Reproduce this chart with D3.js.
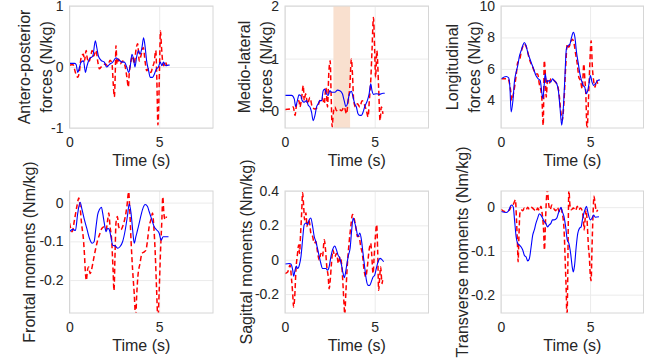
<!DOCTYPE html>
<html><head><meta charset="utf-8">
<script src="https://cdn.jsdelivr.net/npm/d3@7"></script>
<style>body{margin:0;background:#fff;} svg{display:block;font-family:"Liberation Sans",Arial,sans-serif;}</style>
</head><body><svg id="c" width="650" height="362"></svg>
<script>
// ---------- DATA ----------
const xDomain = [0, 8];
const xTicks = [0, 5];
const xLabel = "Time (s)";

const yLabels = [
  ["Antero-posterior", "forces (N/kg)"],
  ["Medio-lateral", "forces (N/kg)"],
  ["Longitudinal", "forces (N/kg)"],
  ["Frontal moments (Nm/kg)"],
  ["Sagittal moments (Nm/kg)"],
  ["Transverse moments (Nm/kg)"]
];
const yDomains = [[-1, 1], [-0.32, 2], [2.24, 10], [-0.285, 0.03], [-0.31, 0.4], [-0.242, 0.037]];
const yTicks = [[-1, 0, 1], [0, 1, 2], [4, 6, 8, 10], [-0.2, -0.1, 0], [-0.2, 0, 0.2, 0.4], [-0.2, -0.1, 0]];
const shadedInterval = [2.7, 3.63]; // panel 2 highlight (s)

// Antero-posterior forces
const apBlue = [[0,0.06],[0.28,0.06],[0.37,0.04],[0.46,-0.09],[0.56,0],[0.65,0.08],[0.78,0.10],[0.89,-0.09],[0.96,0],[1.11,0.13],[1.30,0.18],[1.44,0.43],[1.52,0.32],[1.61,0.18],[1.76,0.11],[1.94,0.08],[2.07,0.0],[2.22,0.04],[2.41,0.08],[2.59,0.15],[2.78,0.11],[2.93,0.08],[3.06,0.08],[3.19,0],[3.30,-0.09],[3.39,0.02],[3.48,0.21],[3.57,0.13],[3.65,0],[3.74,0.16],[3.85,0.27],[3.93,0.21],[4.04,0.32],[4.13,0.48],[4.22,0.32],[4.30,0.10],[4.41,-0.06],[4.5,-0.17],[4.63,-0.17],[4.74,-0.11],[4.85,-0.03],[4.96,0],[5.06,0.08],[5.15,0.02],[5.24,0.08],[5.37,0.02],[5.5,0.03],[5.58,0.03]];
const apRed = [[0,0.03],[0.19,0.04],[0.33,-0.09],[0.46,-0.17],[0.56,-0.06],[0.65,0.16],[0.78,0.21],[0.83,0.10],[0.93,0.27],[0.98,0.16],[1.07,0.08],[1.17,0.16],[1.26,0.27],[1.35,0.18],[1.48,0.27],[1.57,0.10],[1.67,-0.03],[1.76,0],[1.85,0.02],[2.0,0.05],[2.13,0.02],[2.26,0.11],[2.37,0.05],[2.44,-0.28],[2.5,-0.49],[2.56,0],[2.59,0.35],[2.65,0.05],[2.74,0.13],[2.83,0.05],[2.96,0.10],[3.11,0],[3.20,-0.17],[3.28,-0.33],[3.33,-0.11],[3.43,0.10],[3.52,0.18],[3.61,0.05],[3.70,0.27],[3.80,0.38],[3.89,0.10],[3.98,0.18],[4.11,0.32],[4.22,0.08],[4.30,-0.06],[4.41,-0.03],[4.54,-0.09],[4.63,0],[4.72,0.08],[4.81,0.27],[4.87,-0.22],[4.93,-0.95],[4.96,-0.77],[5.02,0],[5.07,0.59],[5.13,0.32],[5.19,0.10],[5.26,0.02],[5.33,0.08],[5.43,0.02]];

// Medio-lateral forces
const mlBlue = [[0,0.30],[0.37,0.30],[0.52,0.23],[0.59,0.09],[0.69,0.20],[0.78,0.31],[0.87,0.30],[0.96,0.20],[1.07,0.17],[1.20,0.20],[1.30,0.11],[1.39,0.08],[1.48,-0.02],[1.57,-0.18],[1.67,-0.08],[1.76,0.08],[1.85,0.14],[1.94,0.20],[2.04,0.20],[2.13,0.39],[2.22,0.42],[2.31,0.33],[2.41,0.30],[2.5,0.39],[2.59,0.36],[2.78,0.36],[2.93,0.40],[3.06,0.39],[3.20,0.33],[3.30,0.20],[3.39,0.09],[3.48,0.14],[3.57,0.30],[3.70,0.38],[3.80,0.26],[3.89,0.14],[3.98,0.08],[4.07,-0.05],[4.17,-0.08],[4.26,-0.08],[4.35,-0.02],[4.44,0.08],[4.59,0.20],[4.69,0.33],[4.78,0.52],[4.85,0.39],[4.93,0.32],[5.09,0.33],[5.28,0.32],[5.46,0.34],[5.56,0.34]];
const mlRed = [[0,0.03],[0.28,0.04],[0.46,0.08],[0.56,-0.08],[0.65,0.14],[0.78,0.20],[0.83,0.08],[0.93,0.26],[1.02,0.49],[1.07,0.20],[1.15,0.33],[1.26,0.14],[1.39,0.26],[1.52,0.08],[1.67,0.04],[1.81,0.08],[1.94,0.20],[2.07,0.26],[2.19,0.14],[2.28,0.45],[2.37,0.08],[2.44,0.71],[2.52,0.96],[2.57,0.33],[2.63,-0.30],[2.69,-0.05],[2.78,0.08],[2.87,0.01],[3.0,0.04],[3.15,0.01],[3.30,0.08],[3.43,-0.05],[3.52,0.20],[3.61,0.45],[3.70,0.99],[3.76,0.71],[3.83,0.20],[3.93,0.08],[4.04,0.14],[4.17,0.08],[4.30,0.20],[4.41,0.14],[4.54,0.01],[4.63,-0.11],[4.70,0.20],[4.78,0.58],[4.85,1.15],[4.93,1.78],[5.0,1.15],[5.05,0.64],[5.12,1.15],[5.22,0.45],[5.30,-0.18],[5.37,0.08],[5.46,-0.05]];

// Longitudinal forces
const lgBlue = [[0,5.37],[0.30,5.52],[0.43,5.43],[0.5,4.84],[0.57,3.26],[0.67,4.0],[0.76,5.26],[0.85,5.79],[0.94,6.21],[1.04,6.84],[1.13,7.16],[1.22,7.47],[1.31,7.68],[1.41,7.47],[1.5,7.05],[1.59,6.74],[1.69,6.42],[1.83,6.0],[1.96,5.58],[2.09,5.37],[2.2,5.26],[2.3,4.42],[2.35,4.11],[2.43,5.05],[2.48,5.68],[2.57,5.16],[2.70,5.26],[2.8,5.16],[2.89,5.37],[2.98,5.26],[3.13,5.05],[3.22,4.63],[3.31,3.58],[3.41,2.42],[3.48,3.16],[3.57,5.05],[3.67,7.26],[3.76,7.47],[3.87,7.58],[3.96,8.0],[4.06,8.32],[4.15,8.0],[4.24,7.05],[4.33,6.42],[4.43,5.68],[4.52,5.26],[4.61,4.95],[4.70,4.84],[4.80,4.42],[4.87,4.63],[4.94,5.05],[5.02,5.58],[5.11,5.16],[5.20,4.95],[5.3,5.05],[5.43,5.26],[5.55,5.3]];
const lgRed = [[0,5.37],[0.39,5.37],[0.54,4.63],[0.61,4.0],[0.7,4.42],[0.85,5.58],[0.94,6.42],[1.04,6.53],[1.13,7.05],[1.31,7.58],[1.46,7.26],[1.59,6.63],[1.78,6.11],[1.96,5.68],[2.06,5.68],[2.15,5.05],[2.24,4.63],[2.30,4.0],[2.37,2.4],[2.43,6.53],[2.48,5.89],[2.54,4.21],[2.61,5.26],[2.70,5.05],[2.80,5.37],[2.98,5.26],[3.17,4.95],[3.26,4.42],[3.35,3.37],[3.44,2.74],[3.54,4.0],[3.63,6.11],[3.72,7.58],[3.81,7.37],[3.91,7.68],[4.0,7.89],[4.09,7.68],[4.19,6.95],[4.28,6.32],[4.37,5.47],[4.46,5.26],[4.56,4.74],[4.65,6.32],[4.70,5.47],[4.76,4.42],[4.83,2.1],[4.91,4.0],[4.98,6.11],[5.06,7.79],[5.13,6.11],[5.20,5.26],[5.28,4.84],[5.35,5.26],[5.43,5.05]];

// Frontal moments
const frBlue = [[0,-0.075],[0.19,-0.069],[0.33,-0.072],[0.46,-0.027],[0.59,0.001],[0.7,-0.018],[0.83,-0.044],[0.96,-0.066],[1.11,-0.092],[1.26,-0.105],[1.37,-0.101],[1.48,-0.062],[1.57,-0.031],[1.67,-0.018],[1.78,-0.012],[1.85,-0.027],[1.94,-0.053],[2.04,-0.075],[2.13,-0.066],[2.22,-0.070],[2.31,-0.088],[2.41,-0.110],[2.56,-0.112],[2.69,-0.118],[2.81,-0.114],[2.96,-0.101],[3.11,-0.070],[3.24,-0.031],[3.33,-0.003],[3.43,-0.027],[3.52,-0.070],[3.61,-0.105],[3.70,-0.088],[3.80,-0.070],[3.93,-0.044],[4.07,-0.018],[4.22,-0.005],[4.35,-0.010],[4.44,-0.023],[4.59,-0.044],[4.72,-0.062],[4.85,-0.070],[5.0,-0.079],[5.11,-0.097],[5.22,-0.088],[5.37,-0.088],[5.52,-0.088]];
const frRed = [[0,-0.053],[0.15,-0.075],[0.28,-0.044],[0.41,-0.010],[0.52,0.012],[0.59,-0.010],[0.67,-0.053],[0.78,-0.097],[0.83,-0.131],[0.89,-0.183],[0.94,-0.201],[1.0,-0.175],[1.07,-0.166],[1.15,-0.183],[1.22,-0.175],[1.33,-0.149],[1.44,-0.123],[1.57,-0.097],[1.70,-0.079],[1.81,-0.066],[1.94,-0.062],[2.04,-0.070],[2.13,-0.044],[2.19,-0.027],[2.26,-0.062],[2.35,-0.097],[2.43,-0.175],[2.48,-0.227],[2.54,-0.131],[2.59,-0.053],[2.67,-0.036],[2.74,-0.062],[2.87,-0.070],[2.96,-0.062],[3.11,-0.036],[3.20,-0.010],[3.30,0.028],[3.35,-0.010],[3.43,-0.097],[3.52,-0.175],[3.61,-0.236],[3.69,-0.30],[3.74,-0.245],[3.81,-0.192],[3.93,-0.157],[4.04,-0.131],[4.17,-0.127],[4.26,-0.123],[4.35,-0.097],[4.44,-0.062],[4.54,-0.044],[4.63,-0.027],[4.70,-0.062],[4.78,-0.131],[4.85,-0.218],[4.93,-0.30],[5.0,-0.227],[5.07,-0.131],[5.15,-0.044],[5.2,0.015],[5.26,-0.027],[5.33,-0.044],[5.41,-0.036]];

// Sagittal moments
const sgBlue = [[0,-0.025],[0.24,-0.022],[0.33,-0.025],[0.43,-0.061],[0.48,-0.096],[0.56,-0.061],[0.63,-0.037],[0.70,-0.051],[0.80,-0.031],[0.89,0.018],[0.98,0.116],[1.07,0.204],[1.17,0.214],[1.26,0.204],[1.35,0.233],[1.44,0.243],[1.54,0.194],[1.63,0.135],[1.72,0.106],[1.81,0.067],[1.91,0.018],[2.0,-0.022],[2.09,-0.051],[2.19,-0.051],[2.28,-0.051],[2.37,-0.061],[2.46,-0.041],[2.56,0.018],[2.65,0.057],[2.78,0.080],[2.87,0.057],[2.96,0.027],[3.06,0.008],[3.15,-0.031],[3.24,-0.080],[3.30,-0.104],[3.35,-0.090],[3.44,-0.031],[3.54,0.027],[3.63,0.067],[3.72,0.175],[3.80,0.243],[3.89,0.214],[3.98,0.175],[4.07,0.135],[4.17,0.155],[4.26,0.116],[4.35,0.037],[4.44,-0.041],[4.54,-0.120],[4.63,-0.149],[4.72,-0.149],[4.81,-0.129],[4.91,-0.100],[5.0,-0.090],[5.09,-0.051],[5.19,-0.012],[5.30,0.008],[5.39,0.002],[5.5,-0.012]];
const sgRed = [[0,-0.080],[0.15,-0.071],[0.28,-0.031],[0.37,-0.120],[0.43,-0.198],[0.48,-0.276],[0.54,-0.218],[0.61,-0.061],[0.70,0.037],[0.76,0.086],[0.81,0.037],[0.87,0.155],[0.93,0.273],[0.98,0.39],[1.04,0.312],[1.09,0.233],[1.17,0.273],[1.22,0.194],[1.30,0.233],[1.37,0.214],[1.44,0.155],[1.54,0.135],[1.63,0.096],[1.72,0.106],[1.81,0.047],[1.91,-0.002],[2.0,0.037],[2.09,0.018],[2.19,0.116],[2.26,0.057],[2.33,-0.041],[2.41,-0.100],[2.46,-0.169],[2.52,-0.120],[2.59,-0.022],[2.67,0.057],[2.78,0.018],[2.87,0.037],[2.98,-0.022],[3.07,0.018],[3.17,-0.041],[3.24,-0.159],[3.30,-0.276],[3.33,-0.32],[3.39,-0.198],[3.48,-0.022],[3.57,0.096],[3.67,0.194],[3.76,0.263],[3.85,0.243],[3.94,0.194],[4.04,0.135],[4.13,0.135],[4.22,0.076],[4.31,0.037],[4.41,-0.061],[4.50,-0.100],[4.59,-0.041],[4.69,0.057],[4.78,0.096],[4.83,0.037],[4.91,-0.080],[4.96,-0.002],[5.04,0.135],[5.11,0.204],[5.17,0.037],[5.22,-0.178],[5.28,-0.100],[5.33,-0.041],[5.41,-0.139],[5.46,-0.100]];

// Transverse moments
const trBlue = [[0,-0.010],[0.30,-0.012],[0.43,-0.008],[0.54,0.003],[0.61,0.005],[0.69,0],[0.76,-0.029],[0.85,-0.068],[0.94,-0.083],[1.04,-0.087],[1.13,-0.091],[1.22,-0.098],[1.31,-0.110],[1.41,-0.114],[1.5,-0.123],[1.59,-0.118],[1.69,-0.091],[1.78,-0.064],[1.87,-0.052],[1.96,-0.037],[2.06,-0.025],[2.15,-0.015],[2.24,-0.018],[2.33,-0.025],[2.43,-0.033],[2.52,-0.037],[2.61,-0.045],[2.70,-0.041],[2.80,-0.037],[2.89,-0.029],[2.98,-0.029],[3.13,-0.025],[3.22,-0.014],[3.30,-0.006],[3.37,0],[3.44,-0.010],[3.54,-0.022],[3.63,-0.045],[3.72,-0.075],[3.81,-0.083],[3.91,-0.106],[4.0,-0.137],[4.06,-0.148],[4.13,-0.133],[4.22,-0.091],[4.31,-0.060],[4.41,-0.048],[4.50,-0.045],[4.57,-0.029],[4.65,-0.014],[4.72,-0.005],[4.80,0.002],[4.87,-0.010],[4.94,-0.022],[5.02,-0.029],[5.11,-0.025],[5.20,-0.018],[5.30,-0.023],[5.50,-0.022]];
const trRed = [[0,-0.005],[0.20,-0.010],[0.35,-0.008],[0.48,-0.006],[0.57,0.002],[0.67,0.005],[0.76,0.013],[0.81,0.017],[0.87,-0.029],[0.93,-0.091],[0.96,-0.125],[1.0,-0.075],[1.06,-0.014],[1.13,-0.006],[1.22,-0.008],[1.31,-0.002],[1.41,-0.006],[1.5,0],[1.59,-0.005],[1.69,0],[1.78,-0.002],[1.87,-0.006],[1.96,-0.010],[2.06,-0.002],[2.15,-0.008],[2.24,0.002],[2.31,-0.014],[2.39,-0.052],[2.44,-0.098],[2.5,-0.029],[2.56,0.025],[2.61,0.04],[2.67,0.009],[2.76,-0.006],[2.85,0.005],[2.94,-0.002],[3.07,-0.008],[3.17,0],[3.26,-0.010],[3.35,-0.002],[3.44,-0.014],[3.54,-0.052],[3.61,-0.129],[3.67,-0.206],[3.70,-0.26],[3.74,-0.183],[3.78,-0.029],[3.81,0.04],[3.87,0.005],[3.94,-0.006],[4.06,-0.002],[4.19,-0.008],[4.28,0.002],[4.37,-0.006],[4.46,-0.002],[4.56,-0.008],[4.61,-0.022],[4.67,-0.052],[4.72,-0.029],[4.78,-0.006],[4.83,-0.029],[4.91,-0.091],[4.96,-0.114],[5.02,-0.160],[5.06,-0.168],[5.11,-0.091],[5.17,-0.014],[5.22,0.025],[5.28,0.009],[5.35,-0.010],[5.43,-0.006]];

const blueSeries = [apBlue, mlBlue, lgBlue, frBlue, sgBlue, trBlue];
const redSeries = [apRed, mlRed, lgRed, frRed, sgRed, trRed];

// ---------- LAYOUT ----------
const cols = [[69.5, 213], [285, 428.5], [501, 643.5]];
const rows = [[6, 128], [191, 313]];
const labelX = [[30, 52], [250, 272], [458, 480], [35], [251.5], [468]];
const textColor = "#262626";

const svg = d3.select("#c");
const defs = svg.append("defs");

for (let i = 0; i < 6; i++) {
  const [x0, x1] = cols[i % 3];
  const [y0, y1] = rows[Math.floor(i / 3)];
  const w = x1 - x0, h = y1 - y0;
  const x = d3.scaleLinear().domain(xDomain).range([0, w]);
  const y = d3.scaleLinear().domain(yDomains[i]).range([h, 0]);
  const g = svg.append("g").attr("transform", `translate(${x0},${y0})`);

  defs.append("clipPath").attr("id", "clip" + i)
    .append("rect").attr("width", w).attr("height", h);

  // grid
  const gx = g.append("g").attr("transform", `translate(0,${h})`)
    .call(d3.axisBottom(x).tickValues(xTicks).tickSize(-h).tickFormat(""));
  const gy = g.append("g")
    .call(d3.axisLeft(y).tickValues(yTicks[i]).tickSize(-w).tickFormat(""));
  [gx, gy].forEach(a => { a.select(".domain").remove(); a.selectAll("line").attr("stroke", "#ebebeb").attr("stroke-width", 1); });

  const plot = g.append("g").attr("clip-path", `url(#clip${i})`);
  if (i === 1) {
    plot.append("rect")
      .attr("x", x(shadedInterval[0])).attr("width", x(shadedInterval[1]) - x(shadedInterval[0]))
      .attr("y", 0).attr("height", h)
      .attr("fill", "#f9e0cf");
  }

  const line = d3.line().x(d => x(d[0])).y(d => y(d[1])).curve(d3.curveMonotoneX);
  plot.append("path").datum(redSeries[i]).attr("d", line)
    .attr("fill", "none").attr("stroke", "#ff0000").attr("stroke-width", 1.5)
    .attr("stroke-dasharray", "5,3");
  plot.append("path").datum(blueSeries[i]).attr("d", line)
    .attr("fill", "none").attr("stroke", "#0000ff").attr("stroke-width", 1.1);

  // box
  g.append("rect").attr("width", w).attr("height", h)
    .attr("fill", "none").attr("stroke", "#d6d6d6").attr("stroke-width", 1);

  // tick labels
  const ax = g.append("g").attr("transform", `translate(0,${h})`)
    .call(d3.axisBottom(x).tickValues(xTicks).tickSize(0).tickPadding(9).tickFormat(d3.format("d")));
  const ay = g.append("g")
    .call(d3.axisLeft(y).tickValues(yTicks[i]).tickSize(0).tickPadding(6).tickFormat(d => String(d)));
  [ax, ay].forEach(a => {
    a.select(".domain").remove();
    a.selectAll("text").attr("fill", textColor).style("font-size", "14px")
      .style("font-family", '"Liberation Sans",Arial,sans-serif');
  });

  // x label
  g.append("text").attr("x", w / 2).attr("y", h + 38)
    .attr("text-anchor", "middle").attr("fill", textColor).style("font-size", "16px")
    .text(xLabel);

  // y label(s)
  const cy = y0 + h / 2;
  yLabels[i].forEach((t, k) => {
    svg.append("text")
      .attr("transform", `translate(${labelX[i][k]},${cy}) rotate(-90)`)
      .attr("text-anchor", "middle").attr("fill", textColor).style("font-size", "16px")
      .text(t);
  });
}
</script></body></html>
